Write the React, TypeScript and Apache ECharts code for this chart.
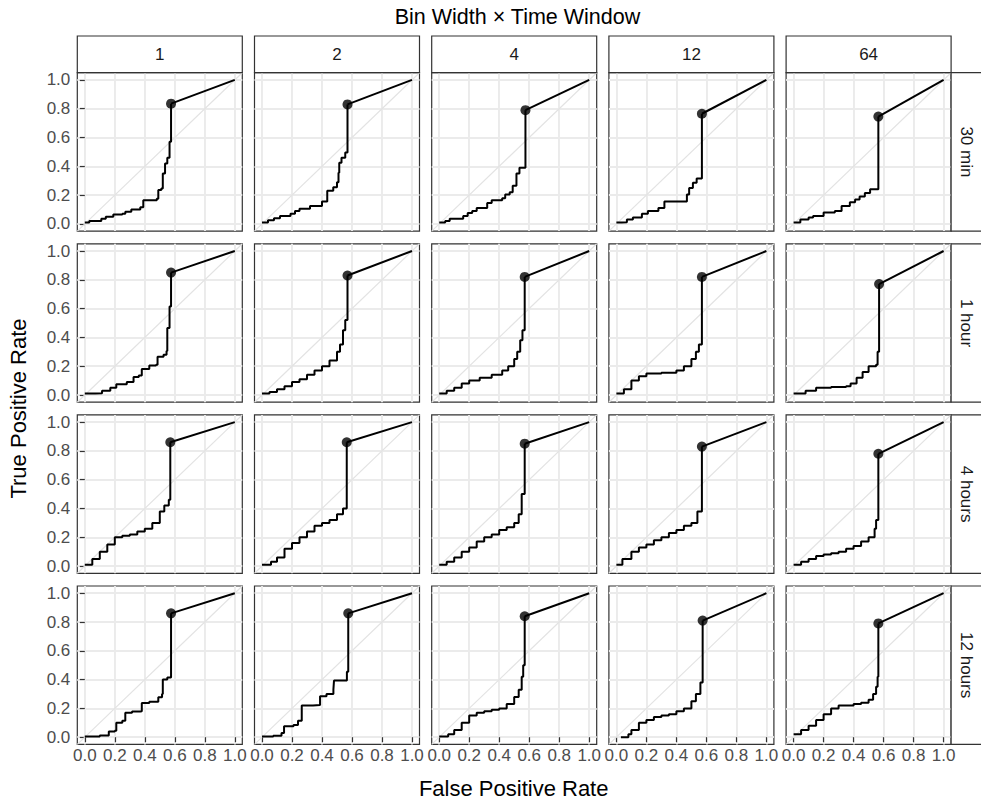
import React, { useEffect, useRef } from "react";
import * as echarts from "echarts";

const binWidths = ["1", "2", "4", "12", "64"];
const timeWindows = ["30 min", "1 hour", "4 hours", "12 hours"];
const tickValues = [0, 0.2, 0.4, 0.6, 0.8, 1.0];

// ROC curves (FPR, TPR) up to the cut-off, one per row (time window) and column (bin width)
const roc30min_1 = [[0,0.01],[0.03,0.02],[0.11,0.035],[0.14,0.05],[0.19,0.065],[0.25,0.07],[0.27,0.085],[0.31,0.1],[0.37,0.115],[0.39,0.165],[0.48,0.175],[0.49,0.235],[0.51,0.245],[0.52,0.35],[0.535,0.42],[0.55,0.46],[0.565,0.57],[0.575,0.58]];
const roc30min_2 = [[0,0.01],[0.04,0.025],[0.08,0.04],[0.12,0.055],[0.19,0.07],[0.22,0.09],[0.25,0.105],[0.32,0.125],[0.4,0.155],[0.435,0.23],[0.475,0.255],[0.5,0.29],[0.51,0.355],[0.515,0.425],[0.53,0.46],[0.555,0.495],[0.57,0.53]];
const roc30min_4 = [[0,0.01],[0.04,0.02],[0.07,0.035],[0.16,0.055],[0.19,0.075],[0.22,0.09],[0.25,0.11],[0.32,0.145],[0.35,0.165],[0.42,0.178],[0.44,0.205],[0.47,0.22],[0.49,0.265],[0.515,0.35],[0.535,0.39],[0.575,0.415]];
const roc30min_12 = [[0,0.01],[0.035,0.012],[0.07,0.03],[0.11,0.045],[0.17,0.07],[0.21,0.09],[0.28,0.11],[0.32,0.155],[0.455,0.155],[0.47,0.205],[0.485,0.25],[0.51,0.285],[0.535,0.315],[0.57,0.335]];
const roc30min_64 = [[0,0.01],[0.045,0.03],[0.1,0.045],[0.13,0.055],[0.2,0.08],[0.275,0.09],[0.32,0.125],[0.375,0.15],[0.41,0.17],[0.44,0.19],[0.475,0.215],[0.51,0.24],[0.565,0.255]];

const roc1hour_1 = [[0,0.01],[0.07,0.012],[0.115,0.03],[0.17,0.05],[0.21,0.075],[0.28,0.09],[0.325,0.125],[0.36,0.135],[0.38,0.18],[0.43,0.205],[0.475,0.21],[0.485,0.265],[0.525,0.28],[0.545,0.305],[0.55,0.465],[0.565,0.615],[0.575,0.63]];
const roc1hour_2 = [[0,0.01],[0.05,0.02],[0.1,0.04],[0.15,0.06],[0.2,0.09],[0.25,0.11],[0.3,0.14],[0.35,0.17],[0.4,0.2],[0.45,0.24],[0.5,0.3],[0.52,0.35],[0.54,0.45],[0.555,0.52],[0.57,0.56]];
const roc1hour_4 = [[0,0.01],[0.05,0.03],[0.1,0.05],[0.15,0.08],[0.2,0.1],[0.27,0.12],[0.35,0.14],[0.42,0.17],[0.46,0.2],[0.5,0.25],[0.52,0.3],[0.54,0.38],[0.555,0.45],[0.57,0.5]];
const roc1hour_12 = [[0,0.01],[0.05,0.04],[0.1,0.1],[0.15,0.13],[0.2,0.15],[0.3,0.155],[0.4,0.17],[0.45,0.2],[0.5,0.25],[0.53,0.3],[0.55,0.35],[0.57,0.38]];
const roc1hour_64 = [[0,0.01],[0.08,0.03],[0.15,0.05],[0.25,0.055],[0.35,0.06],[0.38,0.08],[0.42,0.12],[0.46,0.16],[0.5,0.2],[0.55,0.21],[0.56,0.3],[0.57,0.38]];

const roc4hours_1 = [[0,0.01],[0.05,0.05],[0.1,0.1],[0.15,0.15],[0.2,0.2],[0.25,0.21],[0.3,0.22],[0.35,0.24],[0.4,0.26],[0.45,0.3],[0.5,0.38],[0.53,0.42],[0.56,0.46],[0.57,0.46]];
const roc4hours_2 = [[0,0.01],[0.06,0.03],[0.1,0.06],[0.15,0.12],[0.2,0.16],[0.25,0.2],[0.3,0.24],[0.35,0.28],[0.4,0.3],[0.45,0.32],[0.5,0.36],[0.54,0.4],[0.565,0.42]];
const roc4hours_4 = [[0,0.01],[0.05,0.03],[0.1,0.06],[0.15,0.1],[0.2,0.13],[0.25,0.17],[0.3,0.2],[0.35,0.22],[0.4,0.25],[0.45,0.27],[0.5,0.3],[0.53,0.36],[0.55,0.5],[0.57,0.56]];
const roc4hours_12 = [[0,0.01],[0.04,0.05],[0.1,0.1],[0.15,0.13],[0.2,0.15],[0.25,0.18],[0.3,0.2],[0.35,0.23],[0.4,0.25],[0.45,0.28],[0.5,0.3],[0.54,0.38],[0.57,0.45]];
const roc4hours_64 = [[0,0.01],[0.05,0.03],[0.1,0.05],[0.15,0.07],[0.2,0.08],[0.25,0.09],[0.3,0.1],[0.35,0.12],[0.4,0.14],[0.45,0.17],[0.5,0.2],[0.54,0.26],[0.55,0.32],[0.565,0.42]];

const roc12hours_1 = [[0,0.005],[0.1,0.012],[0.16,0.04],[0.2,0.045],[0.21,0.1],[0.25,0.115],[0.27,0.17],[0.315,0.178],[0.37,0.18],[0.38,0.237],[0.43,0.247],[0.49,0.277],[0.515,0.3],[0.52,0.4],[0.55,0.415],[0.575,0.44]];
const roc12hours_2 = [[0,0.005],[0.075,0.01],[0.13,0.03],[0.147,0.076],[0.21,0.085],[0.24,0.115],[0.265,0.22],[0.34,0.224],[0.387,0.284],[0.43,0.3],[0.476,0.33],[0.48,0.393],[0.553,0.393],[0.566,0.455],[0.575,0.455]];
const roc12hours_4 = [[0,0.005],[0.06,0.02],[0.1,0.05],[0.15,0.1],[0.2,0.15],[0.25,0.17],[0.3,0.18],[0.35,0.19],[0.4,0.2],[0.45,0.23],[0.5,0.28],[0.53,0.33],[0.55,0.42],[0.56,0.5],[0.57,0.52]];
const roc12hours_12 = [[0.03,0],[0.08,0.02],[0.1,0.05],[0.15,0.1],[0.2,0.12],[0.25,0.14],[0.3,0.15],[0.35,0.16],[0.4,0.18],[0.45,0.2],[0.5,0.25],[0.53,0.3],[0.56,0.38],[0.575,0.42]];
const roc12hours_64 = [[0,0.02],[0.05,0.05],[0.1,0.08],[0.15,0.12],[0.2,0.16],[0.25,0.2],[0.3,0.22],[0.4,0.23],[0.45,0.24],[0.5,0.26],[0.53,0.3],[0.55,0.35],[0.56,0.42],[0.565,0.48]];

// Cut-off points (FPR, TPR) marked by a dot
const cutoffFpr30min = [0.575, 0.57, 0.575, 0.57, 0.565];
const cutoffTpr30min = [0.835, 0.83, 0.79, 0.765, 0.745];
const cutoffFpr1hour = [0.575, 0.57, 0.57, 0.57, 0.57];
const cutoffTpr1hour = [0.85, 0.83, 0.82, 0.82, 0.77];
const cutoffFpr4hours = [0.57, 0.565, 0.57, 0.57, 0.565];
const cutoffTpr4hours = [0.86, 0.86, 0.85, 0.83, 0.78];
const cutoffFpr12hours = [0.575, 0.575, 0.57, 0.575, 0.565];
const cutoffTpr12hours = [0.86, 0.86, 0.84, 0.81, 0.79];

const curves = [
  [roc30min_1, roc30min_2, roc30min_4, roc30min_12, roc30min_64],
  [roc1hour_1, roc1hour_2, roc1hour_4, roc1hour_12, roc1hour_64],
  [roc4hours_1, roc4hours_2, roc4hours_4, roc4hours_12, roc4hours_64],
  [roc12hours_1, roc12hours_2, roc12hours_4, roc12hours_12, roc12hours_64],
];
const cutFpr = [cutoffFpr30min, cutoffFpr1hour, cutoffFpr4hours, cutoffFpr12hours];
const cutTpr = [cutoffTpr30min, cutoffTpr1hour, cutoffTpr4hours, cutoffTpr12hours];

const FONT = "'Liberation Sans', Arial, Helvetica, sans-serif";
const TICK_FS = 17;
const STRIP_FS = 17;
const TITLE_FS = 21.5;

export default function App() {
  const ref = useRef<HTMLDivElement>(null);
  useEffect(() => {
    document.body.style.margin = "0";
    if (!ref.current) return;
    const chart = echarts.init(ref.current, null, { renderer: "svg" });

    const panelLeft = [77.3, 254.5, 431.7, 608.9, 786.1];
    const panelTop = [72.7, 243.8, 414.9, 586.0];
    const pw = 165;
    const ph = 158.4;

    const grids: any[] = [];
    const xAxes: any[] = [];
    const yAxes: any[] = [];
    const series: any[] = [];
    const graphics: any[] = [];

    for (let r = 0; r < 4; r++) {
      for (let c = 0; c < 5; c++) {
        const i = r * 5 + c;
        grids.push({
          left: panelLeft[c], top: panelTop[r], width: pw, height: ph,
          show: true, borderColor: "#333333", borderWidth: 1.2, backgroundColor: "#ffffff",
          z: 0,
        });
        xAxes.push({
          gridIndex: i, type: "value", min: -0.05, max: 1.05,
          splitLine: { show: false }, axisLine: { show: false },
          axisTick: { show: r === 3, customValues: tickValues, length: 5, lineStyle: { color: "#333333", width: 1.2 } },
          axisLabel: {
            show: r === 3, customValues: tickValues, margin: 3,
            formatter: (v: number) => v.toFixed(1), color: "#4d4d4d", fontSize: TICK_FS, fontFamily: FONT,
          },
        });
        yAxes.push({
          gridIndex: i, type: "value", min: -0.05, max: 1.05,
          splitLine: { show: false }, axisLine: { show: false },
          axisTick: { show: c === 0, customValues: tickValues, length: 5, lineStyle: { color: "#333333", width: 1.2 } },
          axisLabel: {
            show: c === 0, customValues: tickValues, margin: 7,
            formatter: (v: number) => v.toFixed(1), color: "#4d4d4d", fontSize: TICK_FS, fontFamily: FONT,
          },
        });
        // grid lines + diagonal reference line
        series.push({
          type: "line", xAxisIndex: i, yAxisIndex: i, silent: true,
          data: [[-0.05, -0.05], [1.05, 1.05]], symbol: "none",
          lineStyle: { color: "#e3e3e3", width: 1.2 }, z: 1,
          markLine: {
            silent: true, symbol: ["none", "none"], label: { show: false },
            lineStyle: { color: "#ebebeb", width: 1.9, type: "solid" },
            emphasis: { disabled: true },
            data: [
              ...tickValues.map((v) => ({ xAxis: v })),
              ...tickValues.map((v) => ({ yAxis: v })),
            ],
            z: 0,
          },
        });
        const fx = cutFpr[r][c];
        const fy = cutTpr[r][c];
        series.push({
          type: "line", xAxisIndex: i, yAxisIndex: i, silent: true, step: "end",
          data: [...curves[r][c], [fx, fy]], symbol: "none",
          lineStyle: { color: "#000000", width: 2 }, z: 3,
        });
        series.push({
          type: "line", xAxisIndex: i, yAxisIndex: i, silent: true,
          data: [[fx, fy], [1, 1]], symbol: "none",
          lineStyle: { color: "#000000", width: 2 }, z: 3,
        });
        series.push({
          type: "scatter", xAxisIndex: i, yAxisIndex: i, silent: true,
          data: [[fx, fy]], symbolSize: 10, itemStyle: { color: "#000000" }, z: 4,
        });
      }
    }

    // top strips
    for (let c = 0; c < 5; c++) {
      graphics.push({
        type: "rect", shape: { x: panelLeft[c], y: 36, width: pw, height: 36.7 },
        style: { fill: "#ffffff", stroke: "#333333", lineWidth: 1.2 }, z: 10,
      });
      graphics.push({
        type: "text", x: panelLeft[c] + pw / 2, y: 54.5,
        style: { text: binWidths[c], fontSize: STRIP_FS, fill: "#1a1a1a", align: "center", verticalAlign: "middle", fontFamily: FONT },
        z: 11,
      });
    }
    // right strips
    for (let r = 0; r < 4; r++) {
      graphics.push({
        type: "rect", shape: { x: 951.1, y: panelTop[r], width: 36.7, height: ph },
        style: { fill: "#ffffff", stroke: "#333333", lineWidth: 1.2 }, z: 10,
      });
      graphics.push({
        type: "text", x: 966, y: panelTop[r] + ph / 2, rotation: -Math.PI / 2,
        style: { text: timeWindows[r], fontSize: STRIP_FS, fill: "#1a1a1a", align: "center", verticalAlign: "middle", fontFamily: FONT },
        z: 11,
      });
    }
    graphics.push({
      type: "text", x: 517.5, y: 17,
      style: { text: "Bin Width × Time Window", fontSize: TITLE_FS, fill: "#000000", align: "center", verticalAlign: "middle", fontFamily: FONT },
    });
    graphics.push({
      type: "text", x: 513.7, y: 788,
      style: { text: "False Positive Rate", fontSize: 22, fill: "#000000", align: "center", verticalAlign: "middle", fontFamily: FONT },
    });
    graphics.push({
      type: "text", x: 18, y: 408.5, rotation: Math.PI / 2,
      style: { text: "True Positive Rate", fontSize: 22, fill: "#000000", align: "center", verticalAlign: "middle", fontFamily: FONT },
    });

    chart.setOption({
      animation: false,
      backgroundColor: "#ffffff",
      grid: grids,
      xAxis: xAxes,
      yAxis: yAxes,
      series,
      graphic: graphics,
    });
    return () => chart.dispose();
  }, []);
  return <div ref={ref} style={{ width: 981, height: 803 }} />;
}
